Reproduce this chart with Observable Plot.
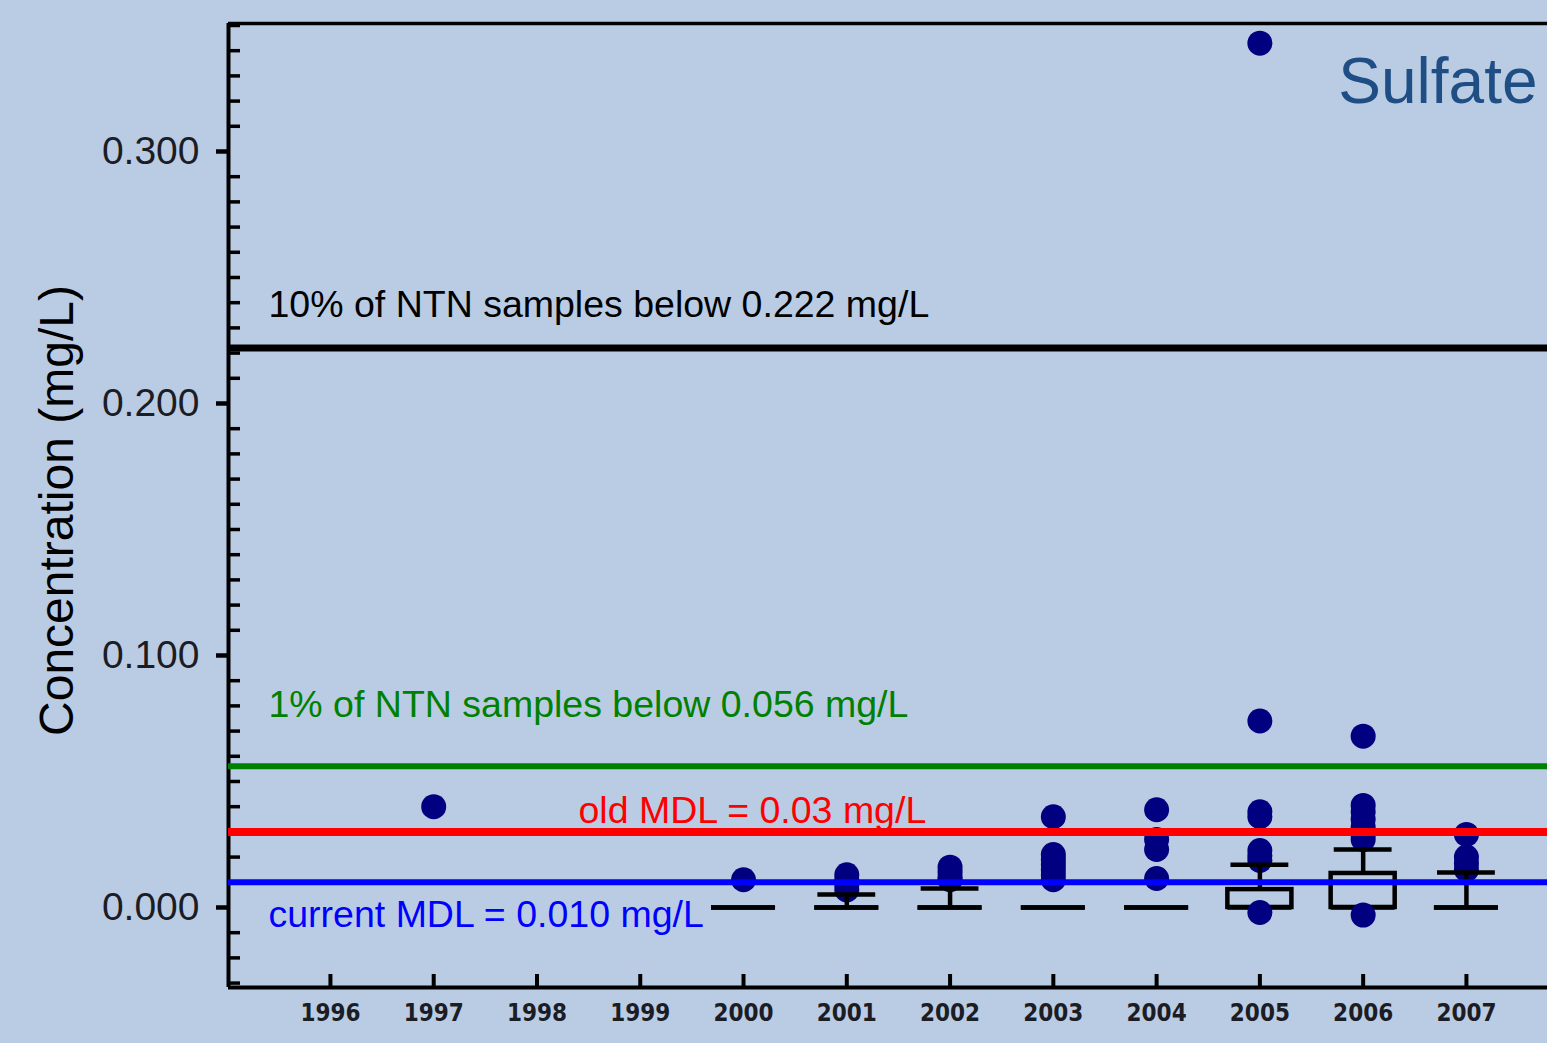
<!DOCTYPE html>
<html>
<head>
<meta charset="utf-8">
<script src="https://cdn.jsdelivr.net/npm/d3@7"></script>
<script src="https://cdn.jsdelivr.net/npm/@observablehq/plot@0.6"></script>
<style>
  html, body { margin: 0; padding: 0; background: #BACCE4; overflow: hidden; }
</style>
</head>
<body>
<div id="chart"></div>
<script>
// Sampling years shown on the x axis
const years = [1996, 1997, 1998, 1999, 2000, 2001, 2002, 2003, 2004, 2005, 2006, 2007];
const yearLabels = ["1996", "1997", "1998", "1999", "2000", "2001", "2002", "2003", "2004", "2005", "2006", "2007"];

// Box-plot statistics (mg/L) per year
const boxYears    = [2000, 2001, 2002, 2003, 2004, 2005, 2006, 2007];
const boxQ1       = [0, 0, 0, 0, 0, 0, 0, 0];
const boxMedian   = [0, 0, 0, 0, 0, 0, 0, 0];
const boxQ3       = [0, 0, 0, 0, 0, 0.0071, 0.0135, 0];
const whiskerHigh = [0, 0.0052, 0.0075, 0, 0, 0.017, 0.023, 0.0139];

// Individual sample concentrations (mg/L) drawn as points
const sampleYears = [
  1997,
  2000,
  2001, 2001, 2001, 2001,
  2002, 2002, 2002, 2002,
  2003, 2003, 2003, 2003, 2003, 2003, 2003,
  2004, 2004, 2004, 2004,
  2005, 2005, 2005, 2005, 2005, 2005, 2005, 2005,
  2006, 2006, 2006, 2006, 2006, 2006, 2006, 2006,
  2007, 2007, 2007, 2007
];
const sampleValues = [
  0.040,
  0.011,
  0.013, 0.011, 0.009, 0.007,
  0.016, 0.014, 0.012, 0.011,
  0.036, 0.021, 0.019, 0.017, 0.015, 0.013, 0.011,
  0.0388, 0.027, 0.023, 0.0115,
  0.343, 0.074, 0.038, 0.036, 0.0226, 0.0205, 0.0187, -0.002,
  0.068, 0.0405, 0.038, 0.035, 0.032, 0.029, 0.027, -0.003,
  0.029, 0.020, 0.0175, 0.015
];

// Reference thresholds (mg/L)
const thresholdValues = [0.222, 0.056, 0.03, 0.010];
const thresholdLabels = [
  "10% of NTN samples below 0.222 mg/L",
  "1% of NTN samples below 0.056 mg/L",
  "old MDL = 0.03 mg/L",
  "current MDL = 0.010 mg/L"
];

// Y-axis ticks
const yMajorTicks = [0, 0.1, 0.2, 0.3];
const yTickLabels = ["0.000", "0.100", "0.200", "0.300"];
const yMinorTicks = d3.range(-3, 36).filter(i => i % 10 !== 0).map(i => i / 100);

// ---- styling ----
const thresholdColors = ["#000000", "#008000", "#FF0000", "#0000FF"];
const thresholdWidths = [7, 6, 8, 6];
const labelDx = [40, 40, 350, 40];
const labelDy = [-31, -49, -9, 45];
const xDomain = [1995.013, 2007.785];
const yDomain = [-0.03175, 0.35079];
const boxHalf = 0.31;
const capHalf = 0.28;

const boxes = boxYears.map((year, i) => ({
  year, q1: boxQ1[i], median: boxMedian[i], q3: boxQ3[i], hi: whiskerHigh[i]
}));
const samples = sampleYears.map((year, i) => ({year, value: sampleValues[i]}));
const thresholds = thresholdValues.map((value, i) => ({
  value, label: thresholdLabels[i], color: thresholdColors[i], width: thresholdWidths[i]
}));

const openBoxes = boxes.filter(d => d.q3 > d.q1);
const flatBoxes = boxes.filter(d => d.q3 === d.q1);
const whiskered = boxes.filter(d => d.hi > d.q3);

const chart = Plot.plot({
  width: 1547,
  height: 1043,
  marginLeft: 228,
  marginRight: 0,
  marginTop: 23,
  marginBottom: 56,
  x: {type: "linear", domain: xDomain, axis: null},
  y: {type: "linear", domain: yDomain, axis: null},
  style: {
    background: "#BACCE4",
    fontFamily: "'Liberation Sans', Arial, Helvetica, sans-serif",
    overflow: "visible"
  },
  marks: [
    // frame: top border, left and bottom axis lines
    Plot.ruleY([yDomain[1]], {stroke: "#000", strokeWidth: 3.5}),
    Plot.ruleX([xDomain[0]], {stroke: "#000", strokeWidth: 4}),
    Plot.ruleY([yDomain[0]], {stroke: "#000", strokeWidth: 4}),

    // y axis: labelled major ticks outside, minor ticks inside
    Plot.axisY({
      ticks: yMajorTicks, anchor: "left", tickSize: 12, tickPadding: 17,
      tickFormat: d => yTickLabels[yMajorTicks.indexOf(d)],
      fontSize: 39, fill: "#1c1c24", strokeWidth: 4.5, label: null
    }),
    Plot.axisY({
      ticks: yMinorTicks, anchor: "left", tickSize: 12, dx: 12,
      tickFormat: () => "", strokeWidth: 3.5, label: null
    }),

    // x axis: inward ticks and year labels
    Plot.axisX({
      ticks: years, anchor: "bottom", tickSize: 13, dy: -13,
      tickFormat: () => "", strokeWidth: 4, label: null
    }),
    Plot.axisX({
      ticks: years, anchor: "bottom", tickSize: 0, tickPadding: 16,
      tickFormat: d => yearLabels[years.indexOf(d)],
      fontSize: 24, fontWeight: "bold", fill: "#1c1c24",
      fontFamily: "'Liberation Sans Narrow', 'DejaVu Sans Condensed', 'Liberation Sans', sans-serif",
      label: null
    }),

    // boxes
    Plot.rect(openBoxes, {
      x1: d => d.year - boxHalf, x2: d => d.year + boxHalf, y1: "q1", y2: "q3",
      fill: "none", stroke: "#000", strokeWidth: 4.5
    }),
    Plot.ruleY(flatBoxes, {
      y: "q1", x1: d => d.year - boxHalf, x2: d => d.year + boxHalf,
      stroke: "#000", strokeWidth: 4.5
    }),
    Plot.ruleY(boxes, {
      y: "median", x1: d => d.year - boxHalf, x2: d => d.year + boxHalf,
      stroke: "#000", strokeWidth: 4.5
    }),

    // individual samples
    Plot.dot(samples, {x: "year", y: "value", r: 12.5, fill: "#000080", stroke: "none"}),

    // upper whiskers and caps
    Plot.ruleX(whiskered, {x: "year", y1: "q3", y2: "hi", stroke: "#000", strokeWidth: 4.5}),
    Plot.ruleY(whiskered, {
      y: "hi", x1: d => d.year - capHalf, x2: d => d.year + capHalf,
      stroke: "#000", strokeWidth: 4.5
    }),

    // threshold lines
    ...thresholds.map(t => Plot.ruleY([t], {y: "value", stroke: t.color, strokeWidth: t.width})),

    // threshold labels
    ...thresholds.map((t, i) => Plot.text([t], {
      y: "value", text: "label", frameAnchor: "left", textAnchor: "start",
      lineAnchor: "bottom", dx: labelDx[i], dy: labelDy[i],
      fontSize: 37.5, fill: t.color
    })),

    // title and y-axis title
    Plot.text(["Sulfate"], {
      frameAnchor: "top-right", textAnchor: "end", lineAnchor: "top",
      dx: -10, dy: 34, fontSize: 64, fill: "#1F4E85"
    }),
    Plot.text(["Concentration (mg/L)"], {
      frameAnchor: "left", textAnchor: "middle", lineAnchor: "middle",
      rotate: -90, dx: -171, dy: 5, fontSize: 48, fill: "#000"
    })
  ]
});

document.getElementById("chart").appendChild(chart);
</script>
</body>
</html>
